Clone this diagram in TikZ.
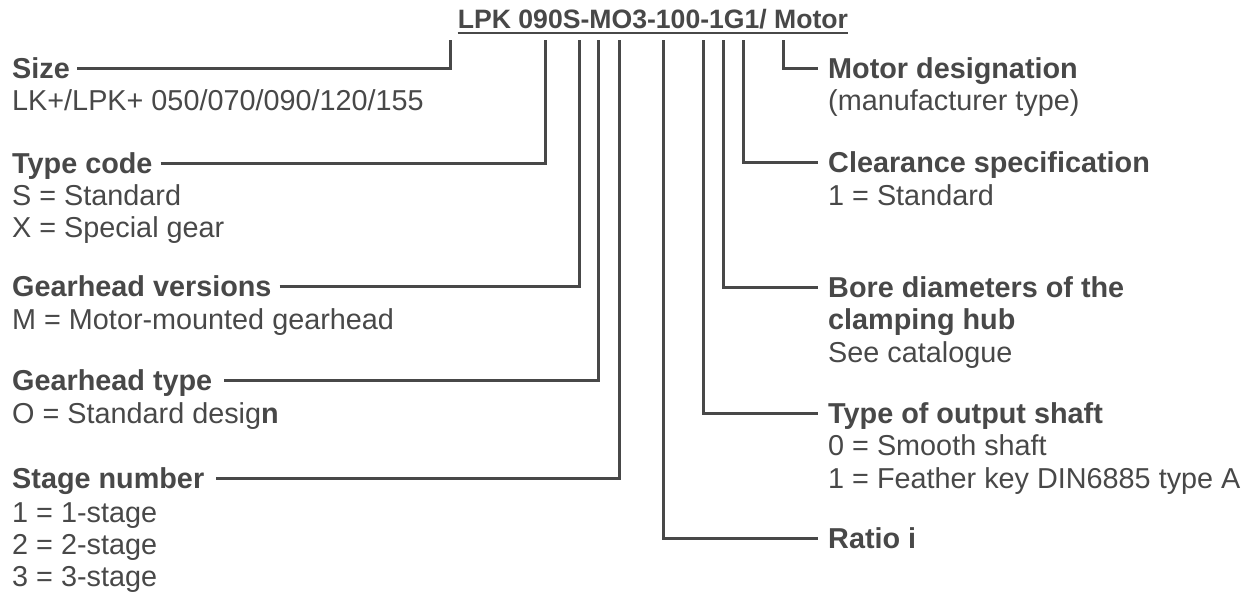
\documentclass[tikz,border=0pt]{standalone}
\usepackage{fontspec}
\setmainfont{Liberation Sans}
\definecolor{ink}{RGB}{72,72,72}
\begin{document}
\begin{tikzpicture}[x=1pt,y=-1pt,
  titlef/.style={font=\fontsize{26.6}{30}\selectfont\bfseries, text=ink, inner sep=0pt, anchor=base},
  hdr/.style={font=\fontsize{28.8}{33}\selectfont\bfseries, text=ink, inner sep=0pt, anchor=base west, text height=20pt, text depth=0pt},
  desc/.style={font=\fontsize{28.8}{33}\selectfont, text=ink, inner sep=0pt, anchor=base west},
  lead/.style={draw=ink, line width=3pt},
  uline/.style={draw=ink, line width=2pt}]
\useasboundingbox (0,0) rectangle (1260,592);

% title
\node[titlef] (title) at (653,28) {LPK 090S-MO3-100-1G1/ Motor};
\draw[uline] ([yshift=-5pt]title.base west) -- ([yshift=-5pt]title.base east);

% tick tops
\coordinate (tsize)  at (450,40);
\coordinate (ttype)  at (545,40);
\coordinate (tghv)   at (579,40);
\coordinate (tght)   at (598,40);
\coordinate (tstg)   at (619,40);
\coordinate (tratio) at (663,40);
\coordinate (tshaft) at (703,40);
\coordinate (tbore)  at (723,40);
\coordinate (tclr)   at (743,40);
\coordinate (tmotor) at (783,40);

% left labels
\node[hdr]  (size)   at (12,78)  {Size};
\node[desc] (sized1) at (12,110) {LK+/LPK+ 050/070/090/120/155};

\node[hdr]  (type)   at (12,173) {Type code};
\node[desc] (typed1) at (12,205) {S = Standard};
\node[desc] (typed2) at (12,237) {X = Special gear};

\node[hdr]  (ghv)    at (12,296) {Gearhead versions};
\node[desc] (ghvd1)  at (12,329) {M = Motor-mounted gearhead};

\node[hdr]  (ght)    at (12,390) {Gearhead type};
\node[desc] (ghtd1)  at (12,423) {O = Standard desig\textbf{n}};

\node[hdr]  (stg)    at (12,488) {Stage number};
\node[desc] (stgd1)  at (12,522) {1 = 1-stage};
\node[desc] (stgd2)  at (12,554) {2 = 2-stage};
\node[desc] (stgd3)  at (12,586) {3 = 3-stage};

% right labels
\node[hdr]  (motor)   at (828,78)  {Motor designation};
\node[desc] (motord1) at (828,110) {(manufacturer type)};

\node[hdr]  (clr)     at (828,172) {Clearance specification};
\node[desc] (clrd1)   at (828,205) {1 = Standard};

\node[hdr]  (bore)    at (828,297) {Bore diameters of the};
\node[hdr]  (bore2)   at (828,329) {clamping hub};
\node[desc] (bored1)  at (828,362) {See catalogue};

\node[hdr]  (shaft)   at (828,423) {Type of output shaft};
\node[desc] (shaftd1) at (828,455) {0 = Smooth shaft};
\node[desc] (shaftd2) at (828,488) {1 = Feather key DIN6885 type A};

\node[hdr]  (ratio)   at (828,548) {Ratio i};

% connectors, left
\draw[lead] ([xshift=7pt]size.east)  -| (tsize);
\draw[lead] ([xshift=8pt]type.east)  -| (ttype);
\draw[lead] ([xshift=8pt]ghv.east)   -| (tghv);
\draw[lead] ([xshift=12pt]ght.east)  -| (tght);
\draw[lead] ([xshift=12pt]stg.east)  -| (tstg);

% connectors, right
\draw[lead] (tratio) |- ([xshift=-10pt]ratio.west);
\draw[lead] (tshaft) |- ([xshift=-10pt]shaft.west);
\draw[lead] (tbore)  |- ([xshift=-10pt]bore.west);
\draw[lead] (tclr)   |- ([xshift=-10pt]clr.west);
\draw[lead] (tmotor) |- ([xshift=-10pt]motor.west);
\end{tikzpicture}
\end{document}
